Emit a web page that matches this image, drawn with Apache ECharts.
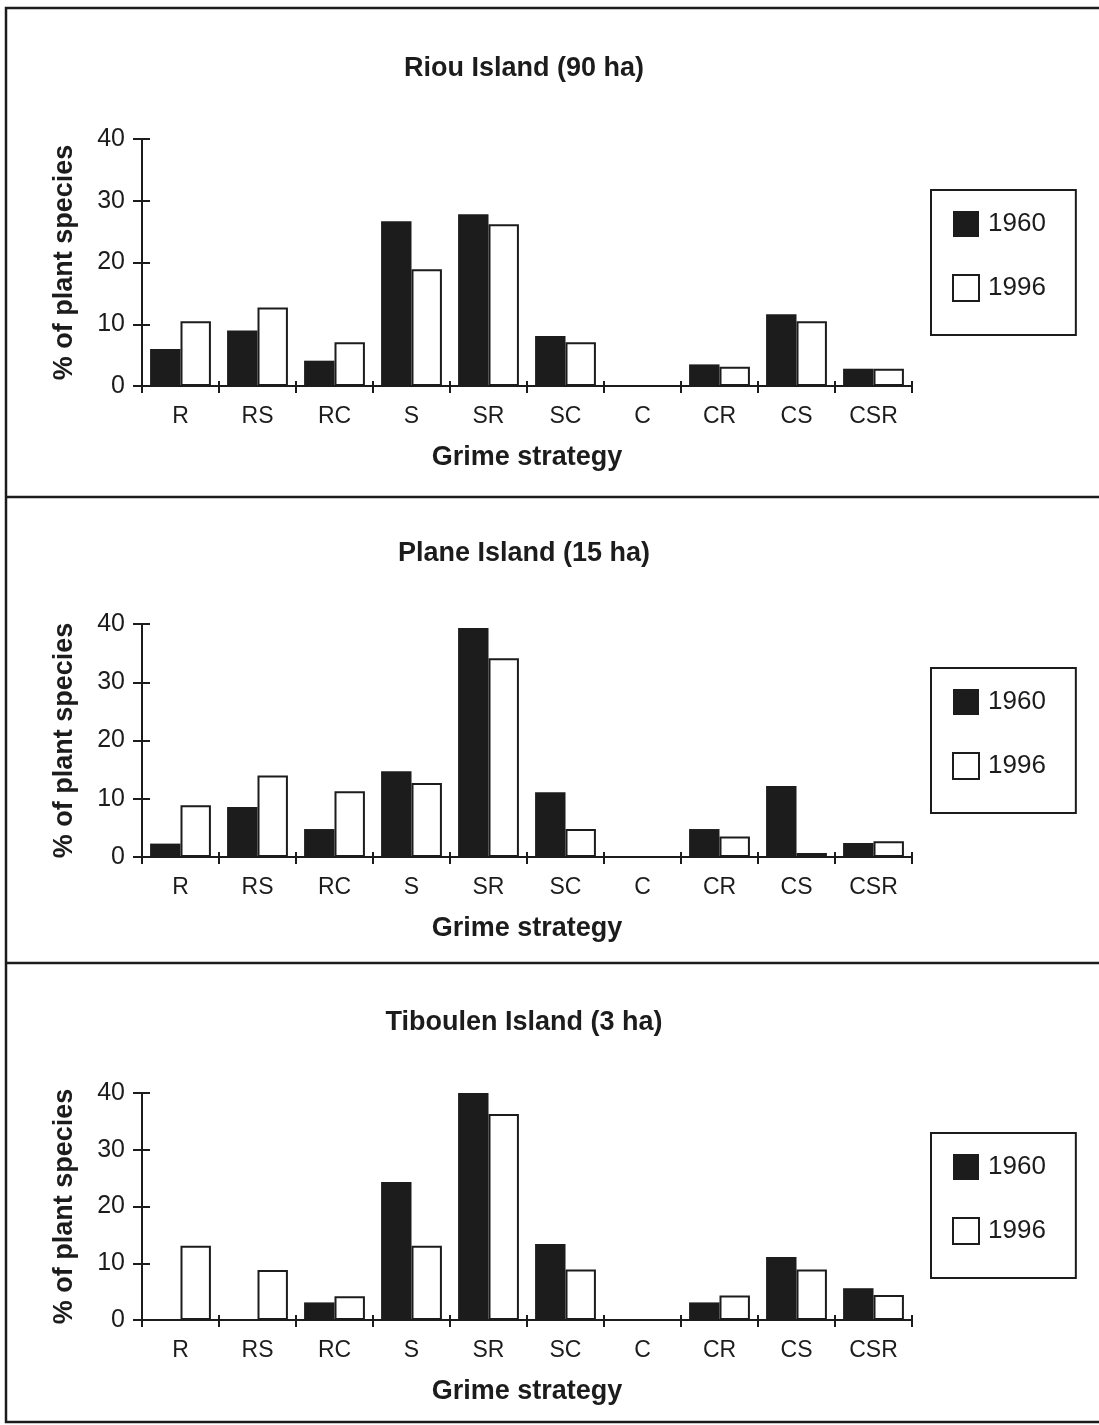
<!DOCTYPE html>
<html>
<head>
<meta charset="utf-8">
<script src="https://cdn.jsdelivr.net/npm/echarts@6/dist/echarts.min.js"></script>
<style>
  html, body { margin: 0; padding: 0; background: #fff; }
  #main { width: 1099px; height: 1425px; }
</style>
</head>
<body>
<div id="main"></div>
<script>
// Grime strategy categories, same for all three islands
const categories = ["R", "RS", "RC", "S", "SR", "SC", "C", "CR", "CS", "CSR"];
const yTicks = [0, 10, 20, 30, 40];

const riou1960 = [6.0, 9.0, 4.1, 26.7, 27.8, 8.1, 0, 3.5, 11.6, 2.8];
const riou1996 = [10.5, 12.7, 7.1, 18.9, 26.2, 7.1, 0, 3.1, 10.5, 2.8];
const plane1960 = [2.3, 8.6, 4.8, 14.7, 39.3, 11.1, 0, 4.8, 12.2, 2.4];
const plane1996 = [8.9, 14.0, 11.3, 12.7, 34.1, 4.8, 0, 3.5, 0.7, 2.7];
const tiboulen1960 = [0, 0, 3.1, 24.3, 40.0, 13.4, 0, 3.1, 11.1, 5.6];
const tiboulen1996 = [13.1, 8.8, 4.2, 13.1, 36.3, 8.9, 0, 4.3, 8.9, 4.4];

const titles = ["Riou Island (90 ha)", "Plane Island (15 ha)", "Tiboulen Island (3 ha)"];
const years = ["1960", "1996"];

const ink = "#1c1c1c";
const font = "Liberation Sans, Arial, Helvetica, sans-serif";

// panel geometry: grid top / height, title y, legend top
const panels = [
  { top: 139, height: 247, titleY: 69, legendTop: 190, d60: riou1960, d96: riou1996 },
  { top: 624, height: 233, titleY: 554, legendTop: 668, d60: plane1960, d96: plane1996 },
  { top: 1093, height: 227, titleY: 1023, legendTop: 1133, d60: tiboulen1960, d96: tiboulen1996 },
];

const grid = [], xAxis = [], yAxis = [], series = [], legend = [], graphic = [];

panels.forEach((p, i) => {
  grid.push({ left: 142, width: 770, top: p.top, height: p.height });

  // main x axis
  xAxis.push({
    type: "category",
    gridIndex: i,
    data: categories,
    position: "bottom",
    name: "Grime strategy",
    nameLocation: "middle",
    nameGap: 58,
    nameTextStyle: { fontFamily: font, fontSize: 27, fontWeight: "bold", color: ink },
    axisLine: { lineStyle: { color: ink, width: 2 } },
    axisTick: { show: true, length: 7, lineStyle: { color: ink, width: 2 } },
    axisLabel: { margin: 19, fontFamily: font, fontSize: 23, color: ink },
  });
  // second x axis only for the short tick stubs above the line
  xAxis.push({
    type: "category",
    gridIndex: i,
    data: categories,
    position: "bottom",
    axisLine: { show: false },
    axisTick: { show: true, inside: true, length: 5, lineStyle: { color: ink, width: 2 } },
    axisLabel: { show: false },
  });

  yAxis.push({
    type: "value",
    gridIndex: i,
    min: 0,
    max: 40,
    interval: 10,
    name: "% of plant species",
    nameLocation: "middle",
    nameGap: 64,
    nameTextStyle: { fontFamily: font, fontSize: 27, fontWeight: "bold", color: ink },
    axisLine: { show: true, lineStyle: { color: ink, width: 2 } },
    axisTick: { show: true, length: 9, lineStyle: { color: ink, width: 2 } },
    axisLabel: {
      margin: 17,
      fontFamily: font,
      fontSize: 25,
      color: ink,
      formatter: (v) => (yTicks.includes(v) ? String(v) : ""),
    },
    splitLine: { show: false },
  });
  yAxis.push({
    type: "value",
    gridIndex: i,
    min: 0,
    max: 40,
    interval: 10,
    position: "left",
    axisLine: { show: false },
    axisTick: { show: true, inside: true, length: 8, lineStyle: { color: ink, width: 2 } },
    axisLabel: { show: false },
    splitLine: { show: false },
  });

  series.push({
    name: years[0],
    type: "bar",
    xAxisIndex: i * 2,
    yAxisIndex: i * 2,
    data: p.d60,
    barCategoryGap: "21%",
    barGap: "0%",
    itemStyle: { color: ink },
    silent: true,
  });
  series.push({
    name: years[1],
    type: "bar",
    xAxisIndex: i * 2,
    yAxisIndex: i * 2,
    data: p.d96,
    barCategoryGap: "21%",
    barGap: "0%",
    itemStyle: { color: "#ffffff", borderColor: ink, borderWidth: 2 },
    silent: true,
  });

  legend.push({
    data: years,
    orient: "vertical",
    left: 931,
    top: p.legendTop,
    padding: [21, 30, 33, 21],
    itemWidth: 26,
    itemHeight: 26,
    itemGap: 37,
    icon: "rect",
    borderColor: ink,
    borderWidth: 2,
    selectedMode: false,
    textStyle: { fontFamily: font, fontSize: 26, color: ink, padding: [16, 0, 0, 4] },
  });

  graphic.push({
    type: "text",
    x: 524,
    y: p.titleY,
    style: {
      text: titles[i],
      font: "bold 27px " + font,
      fill: ink,
      textAlign: "center",
      textVerticalAlign: "middle",
    },
  });
});

// outer frame and separators between the panels
graphic.push({
  type: "rect",
  shape: { x: 6, y: 8, width: 1100, height: 1414 },
  style: { fill: null, stroke: ink, lineWidth: 2.5 },
  silent: true,
});
[497, 963].forEach((y) => {
  graphic.push({
    type: "line",
    shape: { x1: 6, y1: y, x2: 1099, y2: y },
    style: { stroke: ink, lineWidth: 2.5 },
    silent: true,
  });
});

const chart = echarts.init(document.getElementById("main"), null, { renderer: "canvas" });
chart.setOption({
  backgroundColor: "#ffffff",
  animation: false,
  grid,
  xAxis,
  yAxis,
  series,
  legend,
  graphic,
});
</script>
</body>
</html>
